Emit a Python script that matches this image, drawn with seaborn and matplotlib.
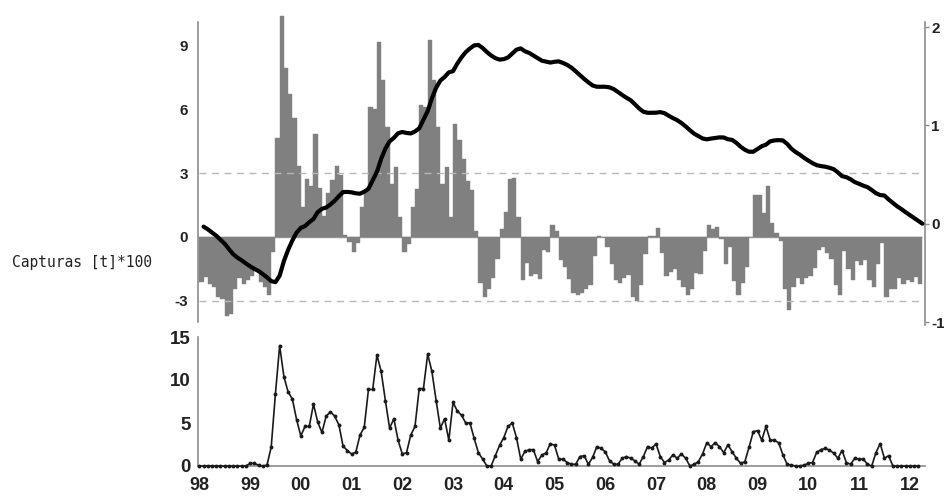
import numpy as np
import pandas as pd
import matplotlib
matplotlib.use("Agg")
import matplotlib.pyplot as plt
import seaborn as sns

# ---------------- data (monthly, Jan 1998 - Mar 2012) ----------------
year_labels = ['98', '99', '00', '01', '02', '03', '04', '05', '06', '07',
               '08', '09', '10', '11', '12']

capturas = [
    0, 0, 0, 0, 0, 0, 0, 0, 0, 0, 0, 0,
    0.3, 0.3, 0.1, 0.0, 0.1, 2.2, 8.4, 14.0, 10.4, 8.6, 7.8, 5.4,
    3.5, 4.6, 4.6, 7.2, 5.1, 3.9, 5.8, 6.3, 5.8, 4.8, 2.3, 1.8,
    1.4, 1.6, 3.6, 4.5, 8.9, 8.9, 12.9, 11.0, 7.6, 4.4, 5.5, 3.0,
    1.4, 1.55, 3.6, 4.6, 9.0, 9.0, 13.0, 11.0, 7.6, 4.4, 5.5, 3.0,
    7.4, 6.4, 5.9, 5.0, 5.0, 3.2, 1.55, 0.8, 0.0, 0.0, 1.2, 2.4,
    3.3, 4.6, 5.0, 3.3, 0.8, 1.7, 1.9, 1.9, 0.5, 1.3, 1.5, 2.6,
    2.4, 0.8, 0.8, 0.4, 0.2, 0.2, 1.1, 1.2, 0.2, 1.0, 2.25, 2.05,
    1.65, 0.6, 0.2, 0.2, 0.9, 1.1, 0.9, 0.6, 0.2, 1.1, 2.25, 2.1,
    2.55, 1.1, 0.4, 0.7, 1.3, 0.9, 1.4, 0.9, 0.0, 0.2, 0.5, 1.4,
    2.7, 2.25, 2.7, 2.25, 1.55, 2.45, 1.65, 0.9, 0.3, 0.5, 2.2, 4.0,
    4.1, 3.0, 4.6, 3.0, 3.0, 2.7, 1.3, 0.2, 0.1, 0.0, 0.0, 0.1,
    0.3, 0.4, 1.6, 1.9, 2.05, 1.85, 1.5, 0.9, 1.8, 0.4, 0.2, 0.9,
    0.8, 0.8, 0.2, 0.0, 1.55, 2.6, 0.9, 1.2, 0.0, 0.0, 0.0, 0.0,
    0.0, 0.0, 0.0,
]

anomalia = [
    -2.12, -1.87, -2.22, -2.36, -2.82, -2.91, -3.74, -3.63, -2.46, -1.91, -2.23, -2.05,
    -1.82, -1.57, -2.12, -2.36, -2.72, -0.71, 4.66, 10.37, 7.94, 6.69, 5.57, 3.35,
    1.38, 2.73, 2.38, 4.84, 2.28, 0.99, 2.06, 2.67, 3.34, 2.89, 0.07, -0.25,
    -0.72, -0.27, 1.38, 2.14, 6.08, 5.99, 9.16, 7.37, 5.14, 2.49, 3.27, 0.95,
    -0.72, -0.32, 1.38, 2.24, 6.18, 6.09, 9.26, 7.37, 5.14, 2.49, 3.27, 0.95,
    5.28, 4.53, 3.68, 2.64, 2.18, 0.29, -2.19, -2.83, -2.46, -1.91, -1.03, 0.35,
    1.18, 2.73, 2.78, 0.94, -2.02, -1.21, -1.84, -1.73, -1.96, -0.61, -0.73, 0.55,
    0.28, -1.07, -1.42, -1.96, -2.62, -2.71, -2.64, -2.43, -2.26, -0.91, 0.02, 0.00,
    -0.47, -1.27, -2.02, -2.16, -1.92, -1.81, -2.84, -3.03, -2.26, -0.81, 0.02, 0.05,
    0.43, -0.77, -1.82, -1.66, -1.52, -2.01, -2.34, -2.73, -2.46, -1.71, -1.73, -0.65,
    0.58, 0.38, 0.48, -0.11, -1.27, -0.46, -2.09, -2.73, -2.16, -1.41, -0.03, 1.95,
    1.98, 1.13, 2.38, 0.64, 0.18, -0.21, -2.44, -3.43, -2.36, -1.91, -2.23, -1.95,
    -1.82, -1.47, -0.62, -0.46, -0.77, -1.06, -2.24, -2.73, -0.66, -1.51, -2.03, -1.15,
    -1.32, -1.07, -2.02, -2.36, -1.27, -0.31, -2.84, -2.43, -2.46, -1.91, -2.23, -2.05,
    -2.12, -1.87, -2.22,
]

acumulada = [
    -0.030, -0.057, -0.089, -0.122, -0.163, -0.204, -0.258, -0.310, -0.345, -0.372, -0.404, -0.433,
    -0.459, -0.482, -0.512, -0.546, -0.584, -0.595, -0.528, -0.380, -0.266, -0.171, -0.091, -0.043,
    -0.024, 0.015, 0.049, 0.118, 0.151, 0.165, 0.195, 0.233, 0.280, 0.322, 0.323, 0.319,
    0.309, 0.305, 0.325, 0.355, 0.442, 0.528, 0.659, 0.764, 0.837, 0.873, 0.920, 0.933,
    0.923, 0.918, 0.938, 0.970, 1.058, 1.145, 1.276, 1.383, 1.456, 1.492, 1.539, 1.552,
    1.628, 1.692, 1.745, 1.783, 1.814, 1.818, 1.787, 1.746, 1.711, 1.684, 1.669, 1.674,
    1.691, 1.730, 1.770, 1.783, 1.754, 1.737, 1.711, 1.686, 1.658, 1.649, 1.639, 1.647,
    1.651, 1.635, 1.615, 1.587, 1.550, 1.511, 1.473, 1.438, 1.406, 1.393, 1.393, 1.393,
    1.387, 1.369, 1.340, 1.309, 1.281, 1.256, 1.215, 1.172, 1.139, 1.128, 1.128, 1.129,
    1.135, 1.124, 1.098, 1.074, 1.053, 1.024, 0.990, 0.951, 0.916, 0.892, 0.867, 0.858,
    0.866, 0.872, 0.878, 0.877, 0.859, 0.852, 0.822, 0.783, 0.752, 0.732, 0.732, 0.760,
    0.788, 0.804, 0.838, 0.847, 0.850, 0.847, 0.812, 0.763, 0.729, 0.702, 0.670, 0.642,
    0.616, 0.595, 0.586, 0.580, 0.569, 0.554, 0.522, 0.483, 0.473, 0.452, 0.423, 0.406,
    0.387, 0.372, 0.343, 0.310, 0.291, 0.287, 0.246, 0.212, 0.177, 0.149, 0.117, 0.088,
    0.058, 0.031, 0.000,
]

# ---------------- styling ----------------
sns.set_theme(style="white")
plt.rcParams['font.family'] = ['Liberation Sans', 'DejaVu Sans']

month = np.arange(len(capturas))
df = pd.DataFrame({
    "month": month,
    "bar_x": month + 0.5,
    "line_x": month + 1.0,
    "capturas": capturas,
    "anomalia": anomalia,
    "acumulada": acumulada,
})

W, H = 945, 496
fig = plt.figure(figsize=(W / 100, H / 100), dpi=100)
xl, xr = 198, 925
ax = fig.add_axes([xl / W, 1 - 322 / H, (xr - xl) / W, (322 - 14) / H])
ax3 = fig.add_axes([xl / W, 1 - 466 / H, (xr - xl) / W, (466 - 337) / H])

xlim = (-0.31, 171.6)
gray = '#808080'
spine_gray = '#8c8c8c'

# ---- top panel: anomaly bars ----
sns.barplot(data=df, x="bar_x", y="anomalia", native_scale=True, width=1.0,
            color=gray, saturation=1, errorbar=None, edgecolor=gray,
            linewidth=0.3, ax=ax, zorder=2)
ax.hlines([3, -3], 0, 171, colors='#b8b8b8', linestyles=(0, (5, 4)), lw=1.0, zorder=3)
ax.hlines(0, -0.3, 171, colors='#9a9a9a', lw=1.0, zorder=1.5)
ax.set_xlim(*xlim)
ax.set_ylim(-4.0, 10.47)
ax.set_yticks([-3, 0, 3, 6, 9])
ax.set_yticklabels(['-3', '0', '3', '6', '9'], fontweight='bold', fontsize=11, color='#222222')
ax.tick_params(axis='y', length=0, pad=7)
ax.set_xticks([])
ax.set_xlabel('')
ax.set_ylabel('')
for s in ['top', 'right', 'bottom']:
    ax.spines[s].set_visible(False)
ax.spines['left'].set_color(spine_gray)
ax.spines['left'].set_linewidth(1.2)
ax.spines['left'].set_bounds(-4.0, 10.1)
ax.patch.set_alpha(0)

# ---- top panel: cumulative line on right axis ----
ax2 = ax.twinx()
ax2.set_position(ax.get_position())
sns.lineplot(data=df, x="line_x", y="acumulada", color='black', lw=3.0,
             estimator=None, sort=False, ax=ax2, zorder=5)
ax2.set_xlim(*xlim)
ax2.set_ylim(-1.0, 2.133)
ax2.set_yticks([-1, 0, 1, 2])
ax2.set_yticklabels(['-1', '0', '1', '2'], fontweight='bold', fontsize=11, color='#222222')
ax2.tick_params(axis='y', right=True, length=3, width=1.0, color=spine_gray, pad=1.5,
                direction='out')
ax2.set_xlabel('')
ax2.set_ylabel('')
for s in ['top', 'left', 'bottom']:
    ax2.spines[s].set_visible(False)
ax2.spines['right'].set_color(spine_gray)
ax2.spines['right'].set_linewidth(1.2)
ax2.spines['right'].set_bounds(-1.03, 2.05)

# ---- bottom panel: captures ----
sns.lineplot(data=df, x="month", y="capturas", color='#1a1a1a', lw=1.2,
             marker='o', markersize=2.8, markeredgewidth=0, estimator=None,
             sort=False, ax=ax3, clip_on=False, zorder=4)
ax3.set_xlim(*xlim)
ax3.set_ylim(0, 15)
ax3.set_yticks([0, 5, 10, 15])
ax3.set_yticklabels(['0', '5', '10', '15'], fontweight='bold', fontsize=13.5, color='#222222')
ax3.set_xticks(np.arange(len(year_labels)) * 12)
ax3.set_xticklabels(year_labels, fontweight='bold', fontsize=13, color='#222222')
ax3.tick_params(axis='y', length=0, pad=5)
ax3.tick_params(axis='x', length=0, pad=8)
ax3.set_xlabel('')
ax3.set_ylabel('')
for s in ['top', 'right']:
    ax3.spines[s].set_visible(False)
for s in ['left', 'bottom']:
    ax3.spines[s].set_color(spine_gray)
    ax3.spines[s].set_linewidth(1.2)
ax3.patch.set_alpha(0)

fig.text(12 / W, 1 - 263 / H, 'Capturas [t]*100', ha='left', va='center',
         fontsize=10.5, color='#222222', family='DejaVu Sans Mono')

fig.savefig('out.png', dpi=100)
